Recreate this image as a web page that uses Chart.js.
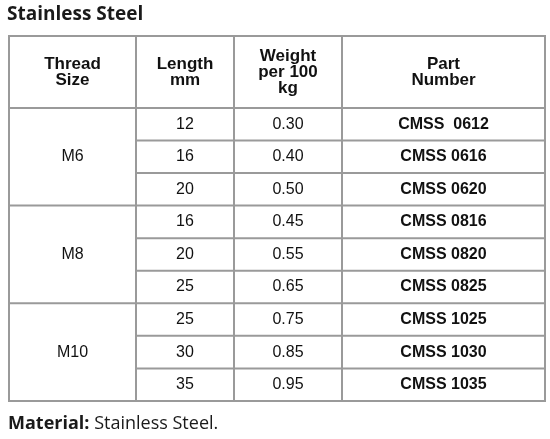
<!DOCTYPE html>
<html><head><meta charset="utf-8">
<script src="https://cdn.jsdelivr.net/npm/chart.js@4"></script>
<style>body{margin:0;background:#fff}canvas{display:block}</style>
</head><body>
<div style="width:550px;height:439px"><canvas id="c"></canvas></div>
<script>
// table content
const headers = [["Thread", "Size"], ["Length", "mm"], ["Weight", "per 100", "kg"], ["Part", "Number"]];
const threadSizes = ["M6", "M8", "M10"];
const lengths = [12, 16, 20, 16, 20, 25, 25, 30, 35];
const weights = ["0.30", "0.40", "0.50", "0.45", "0.55", "0.65", "0.75", "0.85", "0.95"];
const partNumbers = ["CMSS  0612", "CMSS 0616", "CMSS 0620", "CMSS 0816", "CMSS 0820", "CMSS 0825", "CMSS 1025", "CMSS 1030", "CMSS 1035"];

// layout units: x in px-ish across table, y in header+rows
const colEdges = [0, 127, 225, 333, 536];
const headerH = 72, rowH = 32.6;
const rowTop = i => headerH + i * rowH;
const FONT = '"Liberation Sans", Arial, sans-serif';

const tablePlugin = {
  id: 'table',
  afterDraw(chart) {
    const c = chart.ctx, xs = chart.scales.x, ys = chart.scales.y;
    const X = v => xs.getPixelForValue(v), Y = v => ys.getPixelForValue(v);
    c.save();
    c.fillStyle = '#1a1a1a';
    c.font = 'bold 19px "Open Sans", sans-serif';
    c.textBaseline = 'middle';
    c.fillText('Stainless Steel', 7, 15);
    c.font = 'bold 18px "Open Sans", sans-serif';
    c.fillText('Material:', 8, 424);
    const w = c.measureText('Material: ').width;
    c.font = '18px "Open Sans", sans-serif';
    c.fillText('Stainless Steel.', 8 + w, 424);

    // lines
    c.strokeStyle = '#9a9a9a';
    c.lineWidth = 2;
    const line = (x1, y1, x2, y2) => { c.beginPath(); c.moveTo(X(x1), Y(y1)); c.lineTo(X(x2), Y(y2)); c.stroke(); };
    const bottom = rowTop(lengths.length);
    c.strokeRect(X(0), Y(0), X(536) - X(0), Y(bottom) - Y(0));
    colEdges.slice(1, -1).forEach(e => line(e, 0, e, bottom));
    line(0, headerH, 536, headerH);
    for (let i = 1; i < lengths.length; i++) {
      const from = i % 3 === 0 ? 0 : colEdges[1];
      line(from, rowTop(i), 536, rowTop(i));
    }

    c.textAlign = 'center';
    c.fillStyle = '#111';
    // header
    c.font = 'bold 17px ' + FONT;
    headers.forEach((h, j) => {
      const cx = X((colEdges[j] + colEdges[j + 1]) / 2);
      const lh = 16, y0 = Y(headerH / 2) - (h.length - 1) * lh / 2;
      h.forEach((t, k) => c.fillText(t, cx, y0 + k * lh));
    });
    // body
    c.font = '16px ' + FONT;
    threadSizes.forEach((t, g) => {
      c.fillText(t, X(colEdges[1] / 2), Y(rowTop(g * 3 + 1.5)));
    });
    lengths.forEach((v, i) => {
      const cy = Y(rowTop(i + 0.5));
      c.font = '16px ' + FONT;
      c.fillText(String(v), X((colEdges[1] + colEdges[2]) / 2), cy);
      c.fillText(weights[i], X((colEdges[2] + colEdges[3]) / 2), cy);
      c.font = 'bold 16px ' + FONT;
      c.fillText(partNumbers[i], X((colEdges[3] + colEdges[4]) / 2), cy);
    });
    c.restore();
  }
};

new Chart(document.getElementById('c'), {
  type: 'scatter',
  data: { datasets: [{ data: [], pointRadius: 0 }] },
  options: {
    responsive: true, maintainAspectRatio: false, animation: false,
    layout: { padding: { left: 9, right: 5, top: 36, bottom: 38 } },
    plugins: { legend: { display: false }, tooltip: { enabled: false } },
    scales: {
      x: { type: 'linear', min: 0, max: 536, display: false },
      y: { type: 'linear', min: 0, max: rowTop(lengths.length), reverse: true, display: false }
    }
  },
  plugins: [tablePlugin]
});
</script>
</body></html>
